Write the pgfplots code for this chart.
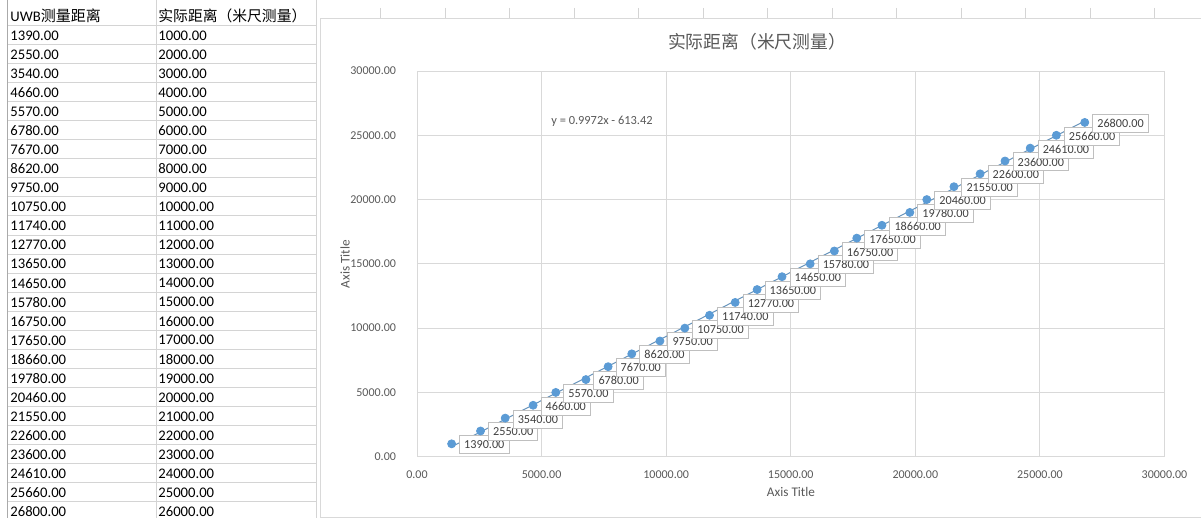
\documentclass[border=0pt]{standalone}
\usepackage{fontspec}
\setmainfont{Carlito}
\newfontfamily\cjk{Noto Sans CJK SC}
\usepackage{pgfplots}
\pgfplotsset{compat=1.18}

\definecolor{gridc}{HTML}{D9D9D9}
\definecolor{cellc}{HTML}{D4D4D4}
\definecolor{txtc}{HTML}{595959}
\definecolor{lblc}{HTML}{404040}
\definecolor{boxc}{HTML}{BFBFBF}
\definecolor{ptc}{HTML}{5B9BD5}

\begin{document}
\begin{tikzpicture}
% spreadsheet part, in screen pixels (1px = 0.5pt)
\begin{scope}[x=0.5pt, y=-0.5pt]
  \useasboundingbox (0,0) rectangle (1201,518);
  \fill[white] (0,0) rectangle (1201,518);
  % cell grid of the table
  \foreach \k in {0,...,25}
    \draw[cellc, line width=0.5pt] (7,{25.5+19.05*\k}) -- (317,{25.5+19.05*\k});
  \draw[cellc!80!black, line width=0.5pt] (7,0) -- (7,518);
  \draw[cellc, line width=0.5pt] (156,0) -- (156,518);
  \draw[cellc, line width=0.5pt] (316.7,0) -- (316.7,518);
  \foreach \k in {0,...,12}
    \draw[cellc, line width=0.5pt] ({380.7+64.5*\k},8) -- ({380.7+64.5*\k},18.5);
  % header row
  \node[anchor=west, inner sep=0pt, font=\fontsize{7.33}{8}\selectfont] at (10,16)
    {UWB{\cjk\fontsize{7.5}{8}\selectfont 测量距离}};
  \node[anchor=west, inner sep=0pt, font=\cjk\fontsize{7.4}{8}\selectfont] at (158,16)
    {实际距离（米尺测量）};
  % table values
  \foreach \a/\b [count=\k from 0] in {
      1390.00/1000.00, 2550.00/2000.00, 3540.00/3000.00, 4660.00/4000.00,
      5570.00/5000.00, 6780.00/6000.00, 7670.00/7000.00, 8620.00/8000.00,
      9750.00/9000.00, 10750.00/10000.00, 11740.00/11000.00, 12770.00/12000.00,
      13650.00/13000.00, 14650.00/14000.00, 15780.00/15000.00, 16750.00/16000.00,
      17650.00/17000.00, 18660.00/18000.00, 19780.00/19000.00, 20460.00/20000.00,
      21550.00/21000.00, 22600.00/22000.00, 23600.00/23000.00, 24610.00/24000.00,
      25660.00/25000.00, 26800.00/26000.00} {
    \node[anchor=west, inner sep=0pt, font=\fontsize{7.33}{8}\selectfont] at (10,{35.5+19.05*\k}) {\a};
    \node[anchor=west, inner sep=0pt, font=\fontsize{7.33}{8}\selectfont] at (158,{35.5+19.05*\k}) {\b};
  }
  % chart area
  \draw[gridc, fill=white, line width=0.5pt] (320.7,18.5) rectangle (1210,517.3);
  \node[font=\cjk\fontsize{8.9}{10}\selectfont, text=txtc] at (757,42) {实际距离（米尺测量）};
  \node[font=\fontsize{6.2}{7}\selectfont, text=txtc] at (602,121) {y = 0.9972x - 613.42};
  \node[font=\fontsize{6.6}{8}\selectfont, text=txtc] at (791,492) {Axis Title};
  \node[font=\fontsize{6.6}{8}\selectfont, text=txtc, rotate=90] at (345,264) {Axis Title};
\end{scope}

\begin{axis}[
  scale only axis,
  width=373.75pt, height=192.85pt,
  anchor=south west, at={(208.5pt,-228.35pt)},
  xmin=0, xmax=30000, ymin=0, ymax=30000,
  xtick={0,5000,...,30000}, ytick={0,5000,...,30000},
  scaled ticks=false,
  grid=major,
  grid style={gridc, line width=0.5pt},
  axis line style={gridc, line width=0.5pt},
  major tick length=0pt,
  tick label style={font=\fontsize{6}{7}\selectfont, text=txtc},
  xticklabel style={anchor=center, yshift=-9pt},
  yticklabel style={anchor=east, xshift=-7pt},
  /pgf/number format/.cd, fixed, fixed zerofill, precision=2, 1000 sep={}, assume math mode=true
]
% linear trendline, ends of y = 0.9972x - 613.42 over the data range
\addplot[ptc!70!gray, line width=0.5pt] coordinates {(1390,772.69) (26800,26111.54)};
\addplot[
  only marks,
  mark=*,
  mark size=2pt,
  color=ptc,
  point meta=explicit symbolic,
  nodes near coords,
  nodes near coords style={anchor=west, xshift=3.75pt, yshift=-0.5pt,
    font=\fontsize{6.1}{7}\selectfont, text=lblc, fill=white, draw=boxc,
    line width=0.5pt, inner xsep=2.3pt, inner ysep=0pt, minimum height=9pt}
] coordinates {
  (1390,1000) [1390.00]
  (2550,2000) [2550.00]
  (3540,3000) [3540.00]
  (4660,4000) [4660.00]
  (5570,5000) [5570.00]
  (6780,6000) [6780.00]
  (7670,7000) [7670.00]
  (8620,8000) [8620.00]
  (9750,9000) [9750.00]
  (10750,10000) [10750.00]
  (11740,11000) [11740.00]
  (12770,12000) [12770.00]
  (13650,13000) [13650.00]
  (14650,14000) [14650.00]
  (15780,15000) [15780.00]
  (16750,16000) [16750.00]
  (17650,17000) [17650.00]
  (18660,18000) [18660.00]
  (19780,19000) [19780.00]
  (20460,20000) [20460.00]
  (21550,21000) [21550.00]
  (22600,22000) [22600.00]
  (23600,23000) [23600.00]
  (24610,24000) [24610.00]
  (25660,25000) [25660.00]
  (26800,26000) [26800.00]
};
\end{axis}
\end{tikzpicture}
\end{document}
